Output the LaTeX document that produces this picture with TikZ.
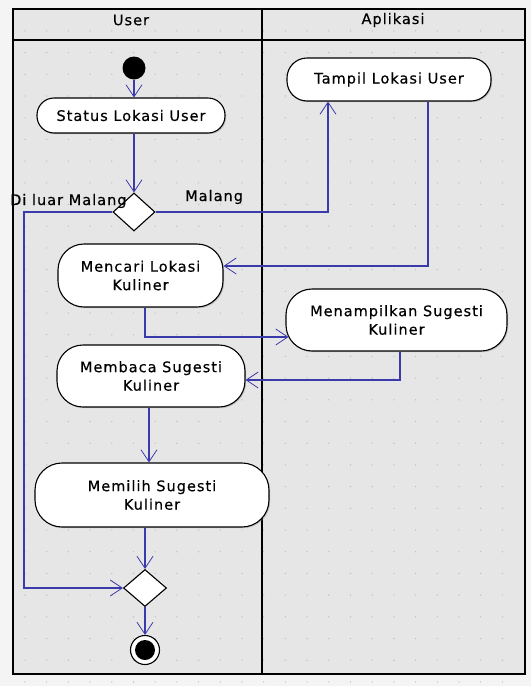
\documentclass[tikz,border=0pt]{standalone}
\usepackage{fontspec}
\newfontfamily\uifont[LetterSpace=7,FakeBold=0.4]{DejaVu Sans}
\usetikzlibrary{arrows.meta,shapes.geometric,calc,shadows}
\definecolor{flow}{HTML}{3A3AAA}
\definecolor{lanebg}{HTML}{E6E6E6}
\definecolor{outerbg}{HTML}{F4F4F4}
\definecolor{gdot}{HTML}{BDBDBD}
\tikzset{
  act/.style={draw=black, line width=1.1pt, fill=white, align=center,
    font=\uifont\fontsize{14.5}{18.5}\selectfont, inner sep=0pt,
    drop shadow={shadow xshift=1.2pt, shadow yshift=-1.2pt, opacity=0.35}},
  decision/.style={diamond, draw=black, line width=1.1pt, fill=white, inner sep=0pt},
  flowline/.style={draw=flow, line width=1.2pt, -{Straight Barb[length=12pt,width=16pt,line width=0.8pt]}},
  lbl/.style={font=\uifont\fontsize{14.5}{16}\selectfont, inner sep=0pt},
  hdr/.style={font=\uifont\fontsize{14.5}{16}\selectfont, inner sep=0pt}
}
\begin{document}
\begin{tikzpicture}[x=1pt,y=-1pt]
\useasboundingbox (0,0) rectangle (531,686);
\fill[outerbg] (0,0) rectangle (531,686);
\fill[lanebg] (13,9) rectangle (525,674);
% grid dots
\foreach \i in {0,...,22} {
  \foreach \j in {0,...,30} {
    \fill[gdot] ({25+21.7*\i},{30.9+21.7*\j}) circle (0.7);
  }
}
\draw[line width=1.3pt] (13,9) rectangle (525,674);
\draw[line width=1.1pt] (13,40) -- (525,40);
\draw[line width=1.1pt] (262,9) -- (262,674);
\node[hdr] (huser) at (131,20) {User};
\node[hdr] (happ) at (393,20) {Aplikasi};

% nodes
\fill[black] (134,68) circle (11.5);
\node[circle, minimum size=23, inner sep=0pt] (start) at (134,68) {};
\node[act, minimum width=188, minimum height=35, rounded corners=17] (status) at (131,115.5) {Status Lokasi User};
\node[act, minimum width=204, minimum height=43, rounded corners=20] (tampil) at (389,79.5) {Tampil Lokasi User};
\node[decision, minimum width=42, minimum height=38] (d1) at (134,212) {};
\node[act, minimum width=165, minimum height=63, rounded corners=26] (mencari) at (140.5,275.5) {Mencari Lokasi\\Kuliner};
\node[act, minimum width=221, minimum height=62, rounded corners=26] (menampilkan) at (396.5,320) {Menampilkan Sugesti\\Kuliner};
\node[act, minimum width=188, minimum height=62, rounded corners=26] (membaca) at (151,376) {Membaca Sugesti\\Kuliner};
\node[act, minimum width=234, minimum height=64, rounded corners=27] (memilih) at (152,495) {Memilih Sugesti\\Kuliner};
\node[decision, minimum width=43, minimum height=37] (d2) at (145,588) {};
\node[circle, draw=black, line width=1.1pt, fill=white, minimum size=29, inner sep=0pt] (end) at (145,650) {};
\fill[black] (end.center) circle (10);

\node[lbl, anchor=base west] (lout) at (10,205) {Di luar Malang};
\node[lbl, anchor=base west] (lin) at (185,201) {Malang};

% connectors
\draw[flowline] (start.south) -- (start.south |- status.north);
\draw[flowline] (d1.north |- status.south) -- (d1.north);
\coordinate (c1) at ($(tampil.south)+(-61,0)$);
\draw[flowline] (d1.east) -| (c1);
\coordinate (c2) at ($(tampil.south)+(39,0)$);
\coordinate (c2e) at ($(mencari.east)+(0,-9.5)$);
\draw[flowline] (c2) |- (c2e);
\coordinate (c3) at ($(mencari.south)+(4.5,0)$);
\coordinate (c3e) at ($(menampilkan.west)+(3,17)$);
\draw[flowline] (c3) |- (c3e);
\coordinate (c4) at ($(menampilkan.south)+(3.5,0)$);
\coordinate (c4e) at ($(membaca.east)+(0,4)$);
\draw[flowline] (c4) |- (c4e);
\coordinate (c5) at ($(membaca.south)+(-2,0)$);
\draw[flowline] (c5) -- (c5 |- memilih.north);
\coordinate (c6) at ($(memilih.south)+(-7,0)$);
\draw[flowline] (c6) -- (d2.north);
\coordinate (lt) at (24,212);
\coordinate (lb) at (24,588);
\draw[flowline] (d1.west) -- (lt) -- (lb) -- (d2.west);
\draw[flowline] (d2.south) -- (end.north);
\end{tikzpicture}
\end{document}
